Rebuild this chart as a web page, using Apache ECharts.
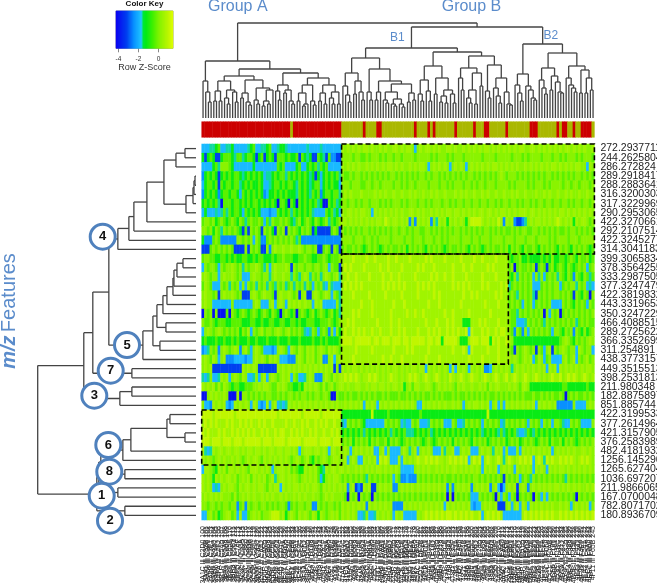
<!DOCTYPE html>
<html><head><meta charset="utf-8">
<style>html,body{margin:0;padding:0;background:#fff;overflow:hidden}#c{width:657px;height:583px;filter:blur(0.45px)}</style>
<script src="https://cdn.jsdelivr.net/npm/echarts@6/dist/echarts.min.js"></script>
</head><body><div id="c"></div>
<script>
const featureLabels = ["272.2937711","244.2625804","286.272824","289.2918417","288.2883641","316.3200303","317.3229969","290.2953065","422.3270661","292.2107514","422.3245277","314.3041183","399.3065834","378.3564255","333.2987505","377.3247479","422.3819832","443.3319653","350.3247229","466.4088515","289.2725622","366.3352699","311.254891","438.3773157","449.3515513","398.2531813","211.980348","182.8875897","851.885744","422.3199533","377.2614964","421.3157905","376.2583989","482.4181932","1256.145296","1265.627404","1036.697207","211.9866065","167.0700048","782.8071702","180.8936709"];

// z-score of each digit used in the cell strings below
const zLevels = [-3.9,-3.1,-2.4,-1.8,-1.55,-1.1,-0.25,0.25,0.6,1.1];

// Group A samples (52 columns), one string per feature
const heatRowsA = [
"3334456334 4533333456 3344563345 5433333334 3333433333 33",
"5156511566 6546645665 1561565166 6565561654 5116541622 11",
"3333564777 6533333335 3333333365 6333356335 6564656333 33",
"2565651565 6566545656 5653445656 6465656565 4515356565 64",
"3566561656 6566456565 5653345665 6566546565 4566356565 53",
"2565652566 5665365656 5652355656 5655546565 4656256656 64",
"5656564066 6566565656 6565656506 6506506565 6564500656 45",
"3533343464 6566536565 6533323365 6564656565 6433336564 53",
"6776756765 6765764676 6763647667 6765467567 6576567465 67",
"7767576476 7676516176 7617675176 7176765767 6151111167 61",
"5222676222 2227767673 7622676767 6767646222 2222222222 22",
"1116767676 7611117176 7611727877 8778778767 7671167617 61",
"6776655665 6565566556 5665556566 7666556676 6556676566 67",
"3767763767 7876747677 8764737877 7871767767 7677677376 61",
"7876773787 7876733378 7767747877 8774764787 4767478767 84",
"6876333767 4767373767 4767476476 7467476747 6376743743 33",
"7877671787 7876711178 7678776178 7787671781 1787678737 64",
"7877333333 3733333337 8733378378 7387878787 7387833333 74",
"0767070006 0765676567 6567657650 6765606765 6756765675 64",
"7667656665 5666655566 5565566556 6556656556 6655666765 67",
"3787678767 6767576837 6786776787 6786767643 4763676273 75",
"5655565565 5656555655 6555655565 5565556555 5655656555 56",
"2347672787 6787278637 8763332378 7638768768 7867876878 76",
"7876873782 2233332337 8787687873 3322278768 7867822783 78",
"7878111111 1111187878 7111111187 8787878787 8787878781 71",
"4347334878 3787687334 7378378767 8783763347 8722278768 78",
"8787868687 6566556667 7878876687 8766556587 8787686786 78",
"0078787787 0008077676 7676776676 7677676776 7677677600 76",
"7332878783 2387878738 7323837834 3487878787 8787878787 87",
"9999899999 9989999999 9999999989 9999999899 9999899999 99",
"8989898889 8988989898 8989889888 8988988989 8898989889 88",
"9898889898 8989898989 8898988989 9889898988 9898898898 98",
"9998999899 9899989999 9989998999 9899999899 9998999989 99",
"8434878878 8788787887 8878788788 7887873788 8788787388 78",
"8787678787 7878767878 8768787878 7876787678 6576787678 87",
"3887658786 8878787688 8787873788 8786765587 8786548788 78",
"8787587878 8786787868 7878678478 8787876787 8786357878 87",
"8787343787 8876878878 7887687883 8787887878 7887687878 78",
"7878787877 7686787878 7787878778 7877878787 7877678787 77",
"7767767677 6772672767 7677676767 7626767767 7227676776 76",
"3378675678 8673833678 7867789997 8578768787 6875876787 86"
];

// Group B samples (94 columns), one string per feature
const heatRowsB = [
"8787878788 7877878778 8787887378 7887878778 8787787878 7878878787 8787878877 8878787878 7878878787 8778",
"7777677667 6777676776 7767777677 7776767776 7677767777 7767777677 7776777676 7777677767 7676777676 7776",
"8787878778 7878787887 8787787878 8737878787 3787873787 8787878878 7878787787 8787878788 7878787887 7387",
"7667677676 7676767677 6767676767 7676776767 6767676776 7676767678 7677767676 7676767767 6767676776 7676",
"7776777667 7677677776 7767677677 7767776776 7677767767 6776777677 7767677776 7677767677 7767767767 7767",
"7878777877 7787878778 7787787877 8778787787 7787878778 7787877877 8778787787 7787787877 8778787787 7877",
"7767767677 6777676767 7767677767 7676777677 6767767767 7677677676 7767767677 6767767767 7677676776 7767",
"8788787887 7387878787 8787788787 8778787878 8788787878 7887887878 8787878887 8878787878 7887878787 8787",
"8878787878 7878879878 8787827287 8782748785 8787875899 9987878798 2878211247 8788787878 9878785878 8767",
"7676767677 6767676767 7677676776 6776767676 7677676767 6767767676 7667676776 6776767676 7667677676 7676",
"7777677767 7676777767 7776776777 6777677676 7777677767 7677767777 6777677767 7767777676 7777677767 7777",
"6766767656 7676567676 6767576767 6576767656 7667676576 7656767667 6757676576 6765767676 5767657676 7656",
"8888988889 8898888988 9888898888 8989888898 8888988889 8898888988 8865667556 5555656575 5665676576 6756",
"8989888898 8888988988 8898888898 9888988888 8988898898 8888989888 8867067667 6716761675 6765765676 7367",
"8898898888 9888898898 8988888988 8889898898 8988889888 8898888988 8865747676 7374736767 4765762765 7646",
"8989898988 8888898989 8989888898 9898988888 8989898988 8898988889 8946767676 7333676767 7367677476 7343",
"8888988888 9888889888 8898888898 8888989888 8888898898 9888888989 8867647676 7417676767 7676761765 7607",
"8888888988 8988888889 8889888888 8898889888 8888988888 8889888898 8867676376 7367676733 3376765767 6376",
"8888989888 8988888898 8888988988 9888888898 8988888988 8888898888 8876647676 7676707376 7067676767 6767",
"8898988888 8889888898 8988888888 8988898889 8988855588 8989888898 8876633347 6767647676 7676767467 6766",
"8988989898 8988988898 8989888898 8898989889 8989889398 8898988989 9876276273 7676767637 7657672765 7567",
"9999899999 9899899989 9989989999 9899899599 9998555899 9899959898 8987555555 5555555555 5678765767 6787",
"8888898888 8988888889 8888989888 8898888888 8988898398 8888988898 8876176787 6717637817 6787677387 6773",
"8888988888 8888898898 8898888888 8988889888 8888888988 8898888898 8887876787 8368736733 3378678376 7867",
"8787887878 7878787878 8787878878 8387878787 3838787387 8782237878 7874787878 7878783878 3878787878 7887",
"8989898788 9898787898 8787898987 8987898787 9878987898 8789878987 8978987898 7898787898 8978989878 9878",
"8787788778 7887887878 8785786887 7887678787 8768787787 7878687887 7787876887 5555555555 5566555555 5655",
"6767667676 7676676766 6766767676 7667676766 6767667676 7676766767 6767676766 6766767676 6760676766 7676",
"7878787838 7873878787 8787878733 8787878787 7878737878 8787837837 3878787878 7838787878 2222227333 3787",
"5555555555 5955555655 5555555556 5555555555 5555555555 5555955555 5555555555 5555555555 5555555555 5555",
"4376767653 3333337676 7634337673 3347676733 3763347676 7637676763 4767676763 7676376737 7643376763 3337",
"5656565646 5656565646 5656444565 6564565656 5656565656 5645656546 4565643346 5465656565 6565656565 6565",
"6767576767 5767667576 7656767676 5676567676 7576767657 6767567676 7567675676 7656767576 6757676567 6767",
"7873787878 7833783733 3378747837 8787333847 7833787833 3787874878 3733373878 7878787837 8787878778 8787",
"7837873387 8783989833 3838787898 8989898878 9898989389 8938987898 4898789898 9389849898 8989898789 8987",
"8787787878 7878878787 8733333787 8787787878 7887878787 8738787837 8787387878 7387873878 7887878787 8787",
"6767676764 7676767673 7622322276 7676767676 6767676767 7676767676 1767673676 4767676767 6764767676 7676",
"7827812187 8117878782 2787878787 8787878782 7278787827 8787827831 3787817872 7878787878 8787878787 7878",
"7607670767 6076767676 7676767676 7676767670 7076767633 3767676073 7637606767 6076373767 6767676076 7676",
"8787878782 8787878782 2228787878 7878787838 7878787832 3378787811 1783783873 8787878787 7878737878 7837",
"8787873347 3348787873 8783333387 8989898989 9898989898 8938989898 3333333898 9898989898 8989898989 8989"
];

// columns of the top class bar: sample index that differs from its group's colour
const oliveColumnsInA = [33];
const redColumnsInB = [60,65,66,79,84,86,94,101,105,106,113,122,123,124,132,134,135,138,141,142,143,144];
const groupASize = 52;
const columnCount = 146;

// column dendrogram, merge heights: [height, left, right], 0 = a leaf
const colTree = [95,
 [57,
  [37,0,[26,0,[16,0,0]]],
  [49,
   [42,
    [37,[27,[17,0,0],[17,0,0]],[28,[20,0,[14,0,0]],[26,0,[16,0,0]]]],
    [38,[25,[20,0,0],[16,0,[13,0,0]]],[30,[18,0,[14,0,0]],[28,[17,[12,0,0],[14,0,0]],0]]]],
   [45,
    [33,[27,0,[18,0,0]],[28,[25,0,0],[17,0,[14,0,0]]]],
    [40,[33,[25,[17,0,0],[14,[12,0,0],0]],[17,0,[13,0,0]]],[33,[25,[17,0,0],[14,0,0]],[26,[20,0,[14,0,0]],[14,0,0]]]]]]],
 [91,
  [70,
   [60,
    [45,[32,0,[23,0,[16,0,0]]],[37,[24,0,0],[26,0,[18,0,0]]]],
    [49,[26,0,[18,0,0]],
     [37,[26,[18,0,0],0],
      [34,[26,[18,0,[15,0,0]],[19,[14,0,[12,0,0]],[14,0,[11,0,0]]]],[25,[16,0,0],[18,0,0]]]]]],
   [66,
    [52,[38,[24,0,[17,0,0]],[27,0,[17,0,0]]],[40,[24,0,0],[28,[22,[16,0,0],[15,0,0]],[24,0,[15,0,0]]]]],
    [62,
     [50,[40,0,[28,0,0]],[45,[28,[20,0,[15,0,0]],[14,0,0]],[32,0,0]]],
     [53,[27,0,[20,0,0]],[40,[30,0,[22,0,[15,0,0]]],[26,0,[14,0,[13,0,0]]]]]]]],
  [74,
   [44,[33,0,[25,0,[17,0,0]]],[32,0,[28,0,[20,0,[18,0,0]]]]],
   [65,
    [50,[38,0,[30,0,[24,0,0]]],[42,[28,0,0],[36,0,[26,0,[25,0,0]]]]],
    [52,[40,0,[33,0,[30,0,[26,0,0]]]],[48,[25,0,0],[40,[25,0,0],[28,0,0]]]]]]]];

// row dendrogram
const rowGroup4 = [78,[67,[62,[49,[32,[20,[11,0,0],0],[10,[3,[2,[1,0,0],0],0],0]],0],0],0],0];
const rowGroup5 = [53,[43,[39,[33,[29,[23,[22,[19,[13,0,0],0],0],0],0],0],[30,0,0]],[36,0,0]],0];
const rowGroup7 = [64,0,0];
const rowGroup3 = [76,[64,0,0],0];
const rowGroup6 = [73,[65,[29,[26,0,0],[11,0,0]],0],0];
const rowGroup8 = [71,0,0];
const rowGroup1 = [78,0,0];
const rowGroup2 = [71,0,0];
const rowTree = [158,[112,[103,[87,rowGroup4,rowGroup5],rowGroup7],rowGroup3],[99,[97,[95,rowGroup6,rowGroup8],rowGroup1],rowGroup2]];

// annotation boxes: first column, first row, last column, last row
const dashedBoxes = [[52,0,146,12],[52,12,114,24],[0,29,52,35]];

// colour key scale
const keyMin = -4.2, keyMax = 1.5;
const colorStops = [[-4.2,'#0a00f0'],[-3.1,'#0040f0'],[-2.4,'#0890ff'],[-1.6,'#20c8ff'],[-1.5,'#00e840'],[-1.2,'#00ea18'],[-0.5,'#40f000'],[0.1,'#80f200'],[0.6,'#a0f400'],[1.1,'#c0f600'],[1.5,'#dcff00']];

const ringLabels = [['4',102.7,236.7],['5',127,345],['7',110.7,370.7],['3',94.3,395.7],['6',108.3,445],['8',109.3,471.7],['1',101.7,495.7],['2',110,520.7]];

function hex(c){return [1,3,5].map(i=>parseInt(c.substr(i,2),16));}
function colorAt(z){
  for(let i=1;i<colorStops.length;i++){
    if(z<=colorStops[i][0]+1e-9){
      const a=colorStops[i-1],b=colorStops[i],t=(z-a[0])/(b[0]-a[0]);
      const p=hex(a[1]),q=hex(b[1]);
      return 'rgb('+p.map((v,k)=>Math.round(v+(q[k]-v)*t)).join(',')+')';
    }
  }
  return colorStops[colorStops.length-1][1];
}
const ramp=[];for(let i=0;i<=114;i++)ramp.push(colorAt(keyMin+i*0.05));

const columns=[];for(let i=0;i<columnCount;i++)columns.push(i);
const sampleLabels=columns.map(i=>{
  const h=(0x3a1c+i*37).toString(16).toUpperCase();
  const k=(0xc2d0+i*91).toString(16).toUpperCase();
  return '07 '+h+' lll '+k+' '+String(100+i);
});
const heatData=[];
featureLabels.forEach((f,r)=>{
  const s=(heatRowsA[r]+heatRowsB[r]).replace(/\s/g,'');
  for(let c=0;c<s.length&&c<columnCount;c++)heatData.push([c,r,zLevels[+s[c]]]);
});
const barData=columns.map(c=>{
  const red=c<groupASize?!oliveColumnsInA.includes(c):redColumnsInB.includes(c);
  return [c,0,red?1:0];
});
const keyCats=[],keyData=[];
for(let i=0;i<57;i++){keyCats.push((keyMin+i*0.1).toFixed(1));keyData.push([i,0,keyMin+i*0.1+0.05]);}
const keyTickShown=i=>[-4,-2,0].includes(Math.round((keyMin+i*0.1)*10)/10);

function layout(tree){
  const segs=[];let next=0;
  (function walk(n){
    if(n===0)return {pos:0.5+next++,h:0};
    const a=walk(n[1]),b=walk(n[2]);
    segs.push([a.pos,a.h,a.pos,n[0]],[a.pos,n[0],b.pos,n[0]],[b.pos,n[0],b.pos,b.h]);
    return {pos:(a.pos+b.pos)/2,h:n[0]};
  })(tree);
  return {segs,leaves:next};
}
const topDen=layout(colTree), leftDen=layout(rowTree);

function renderSeg(swap){
  return function(p,api){
    const v=[api.value(0),api.value(1),api.value(2),api.value(3)];
    const a=api.coord(swap?[v[1],v[0]]:[v[0],v[1]]),b=api.coord(swap?[v[3],v[2]]:[v[2],v[3]]);
    return {type:'line',shape:{x1:a[0],y1:a[1],x2:b[0],y2:b[1]},style:{stroke:'#444',lineWidth:1.3}};
  };
}
const HX=201.7,HW=392.7,HY=144,HH=376;
const blue='#5b8ccb',ring='#4f81bd',sans='"Liberation Sans",Arial,sans-serif';
const hideAxis={show:false};
const G={outerBoundsMode:'none'};

const option={
  animation:false,
  backgroundColor:'#fff',
  textStyle:{fontFamily:sans},
  grid:[
    {...G,left:HX,top:HY,width:HW,height:HH},
    {...G,left:HX,top:23,width:HW,height:95},
    {...G,left:37.7,top:HY,width:196-37.7,height:HH},
    {...G,left:HX,top:121.7,width:HW,height:15.6},
    {...G,left:116,top:11,width:57,height:37.3,show:true,borderColor:'#555',borderWidth:0.6,backgroundColor:'transparent'},
    {...G,left:HX,top:HY,width:HW,height:HH}
  ],
  xAxis:[
    {type:'category',gridIndex:0,data:sampleLabels,axisLine:hideAxis,axisTick:hideAxis,splitLine:hideAxis,
     axisLabel:{interval:0,rotate:90,fontSize:7,color:'#222',margin:6,fontFamily:sans}},
    {type:'value',gridIndex:1,min:0,max:topDen.leaves,show:false},
    {type:'value',gridIndex:2,min:0,max:158,inverse:true,show:false},
    {type:'category',gridIndex:3,data:columns,show:false},
    {type:'category',gridIndex:4,data:keyCats,axisLine:{show:false},
     axisTick:{show:true,interval:keyTickShown,length:4,alignWithLabel:true,lineStyle:{color:'#555',width:0.7}},
     axisLabel:{interval:keyTickShown,formatter:v=>String(Number(v)),fontSize:6.5,color:'#333',margin:7,fontFamily:sans},
     name:'Row Z-Score',nameLocation:'middle',nameGap:15,nameTextStyle:{fontSize:9,color:'#333',fontFamily:sans}},
    {type:'value',gridIndex:5,min:0,max:columnCount,show:false}
  ],
  yAxis:[
    {type:'category',gridIndex:0,inverse:true,position:'right',data:featureLabels,axisLine:hideAxis,axisTick:hideAxis,splitLine:hideAxis,
     axisLabel:{interval:0,fontSize:10.5,color:'#222',margin:6,fontFamily:sans}},
    {type:'value',gridIndex:1,min:0,max:95,show:false},
    {type:'value',gridIndex:2,min:0,max:leftDen.leaves,inverse:true,show:false},
    {type:'category',gridIndex:3,data:['class'],show:false},
    {type:'category',gridIndex:4,data:['key'],show:false},
    {type:'value',gridIndex:5,min:0,max:featureLabels.length,inverse:true,show:false}
  ],
  visualMap:[
    {type:'continuous',show:false,seriesIndex:[0,1],min:keyMin,max:keyMax,inRange:{color:ramp},dimension:2},
    {type:'piecewise',show:false,seriesIndex:2,dimension:2,pieces:[{value:1,color:'#cc0000'},{value:0,color:'#aab800'}]}
  ],
  series:[
    {type:'heatmap',xAxisIndex:0,yAxisIndex:0,data:heatData,progressive:0,silent:true},
    {type:'heatmap',xAxisIndex:4,yAxisIndex:4,data:keyData,progressive:0,silent:true},
    {type:'heatmap',xAxisIndex:3,yAxisIndex:3,data:barData,progressive:0,silent:true},
    {type:'custom',xAxisIndex:1,yAxisIndex:1,data:topDen.segs,renderItem:renderSeg(false),encode:{x:[0,2],y:[1,3]},silent:true,clip:false},
    {type:'custom',xAxisIndex:2,yAxisIndex:2,data:leftDen.segs,renderItem:renderSeg(true),encode:{x:[1,3],y:[0,2]},silent:true,clip:false},
    {type:'custom',xAxisIndex:5,yAxisIndex:5,data:dashedBoxes,z:20,silent:true,clip:false,encode:{x:[0,2],y:[1,3]},
     renderItem:function(p,api){
       const a=api.coord([api.value(0),api.value(1)]),b=api.coord([api.value(2),api.value(3)]);
       return {type:'rect',shape:{x:a[0],y:a[1],width:b[0]-a[0],height:b[1]-a[1]},style:{fill:null,stroke:'#000',lineWidth:1.6,lineDash:[5,3]}};
     }}
  ],
  graphic:[
    {type:'text',x:208,y:7,z:50,style:{text:'Group A',fill:blue,font:'16px '+sans,verticalAlign:'middle'}},
    {type:'text',x:441.7,y:7,z:50,style:{text:'Group B',fill:blue,font:'16px '+sans,verticalAlign:'middle'}},
    {type:'text',x:390,y:38,z:50,style:{text:'B1',fill:blue,font:'12px '+sans,verticalAlign:'middle'}},
    {type:'text',x:543.5,y:36,z:50,style:{text:'B2',fill:blue,font:'12px '+sans,verticalAlign:'middle'}},
    {type:'text',x:144.5,y:4,z:50,style:{text:'Color Key',fill:'#111',font:'bold 8px '+sans,align:'center',verticalAlign:'middle'}},
    {type:'text',x:9,y:311,rotation:Math.PI/2,z:50,style:{
      text:'{i|m/z} {n|Features}',align:'center',verticalAlign:'middle',
      rich:{i:{fontStyle:'italic',fontWeight:'bold',fontSize:20,fill:blue,fontFamily:sans},
            n:{fontSize:20,fill:blue,fontFamily:sans}}}}
  ].concat(ringLabels.map(r=>({type:'group',x:r[1],y:r[2],z:60,children:[
    {type:'circle',z:60,shape:{r:12.5},style:{fill:'#fff',stroke:ring,lineWidth:3}},
    {type:'text',z:61,style:{text:r[0],fill:'#111',font:'bold 13px '+sans,align:'center',verticalAlign:'middle'}}
  ]})))
};
const chart=echarts.init(document.getElementById('c'),null,{renderer:'canvas',width:657,height:583});
chart.setOption(option);
</script></body></html>
